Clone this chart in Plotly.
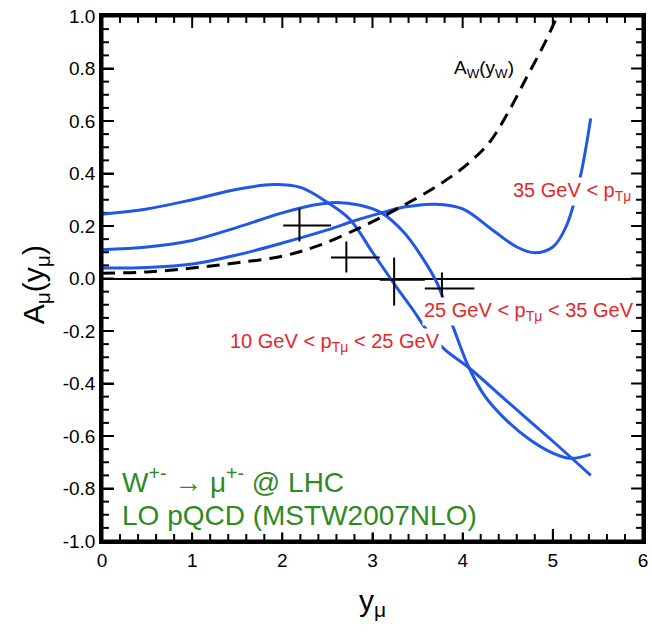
import plotly.graph_objects as go

# Muon charge asymmetry A_mu(y_mu) for three p_T bins, plus the W asymmetry
y_bin1 = [0.0, 0.5, 1.0, 1.5, 1.9, 2.2, 2.5, 2.75, 3.0, 3.25, 3.45, 3.6, 3.8, 4.07, 4.5, 5.0, 5.42]
a_bin1 = [0.245, 0.265, 0.30, 0.34, 0.358, 0.347, 0.29, 0.225, 0.10, -0.025, -0.12, -0.195, -0.27, -0.34, -0.47, -0.62, -0.75]

y_bin2 = [0.0, 0.5, 1.0, 1.5, 2.0, 2.35, 2.6, 2.85, 3.1, 3.35, 3.57, 3.72, 3.9, 4.07, 4.25, 4.5, 4.75, 5.0, 5.2, 5.42]
a_bin2 = [0.11, 0.12, 0.145, 0.195, 0.25, 0.28, 0.29, 0.28, 0.25, 0.175, 0.07, -0.02, -0.19, -0.34, -0.45, -0.545, -0.615, -0.665, -0.685, -0.67]

y_bin3 = [0.0, 0.5, 1.0, 1.5, 2.0, 2.5, 2.8, 3.1, 3.35, 3.7, 4.0, 4.35, 4.6, 4.8, 5.0, 5.15, 5.3, 5.42]
a_bin3 = [0.04, 0.042, 0.055, 0.09, 0.135, 0.185, 0.22, 0.25, 0.272, 0.283, 0.265, 0.18, 0.12, 0.098, 0.12, 0.20, 0.38, 0.61]

y_w = [0.0, 0.5, 1.0, 1.5, 2.0, 2.4, 2.9, 3.3, 3.75, 4.05, 4.3, 4.5, 4.7, 4.9, 5.05]
a_w = [0.02, 0.025, 0.04, 0.06, 0.085, 0.125, 0.20, 0.27, 0.36, 0.435, 0.52, 0.63, 0.76, 0.89, 1.0]

# Measured points: centre, bin edges and vertical error range
pt_x = [2.19, 2.71, 3.24, 3.77]
pt_y = [0.202, 0.08, -0.005, -0.038]
pt_xlo = [2.01, 2.54, 3.08, 3.58]
pt_xhi = [2.54, 3.08, 3.58, 4.13]
pt_ylo = [0.141, 0.023, -0.103, -0.09]
pt_yhi = [0.267, 0.141, 0.08, 0.023]

x_ticks = [0, 1, 2, 3, 4, 5, 6]
y_ticks = [-1.0, -0.8, -0.6, -0.4, -0.2, 0.0, 0.2, 0.4, 0.6, 0.8, 1.0]
X_RANGE = [0, 6]
Y_RANGE = [-1, 1]
X_MINOR_STEPS = 5   # minor divisions per major x interval
Y_MINOR_STEPS = 4   # minor divisions per major y interval

BLUE = "#2157e6"
RED = "#e8262a"
GREEN = "#2f8a1f"
FONT = "Liberation Sans, Arial, sans-serif"

W, H = 652, 633
MARGIN = dict(l=102, r=4, t=16, b=92)
PLOT_W = W - MARGIN["l"] - MARGIN["r"]
PLOT_H = H - MARGIN["t"] - MARGIN["b"]

fig = go.Figure()

# Inward tick marks on all four sides (major and minor), pixel lengths in axis units
MAJOR_LEN, MINOR_LEN = 12, 7
x_per_px = (X_RANGE[1] - X_RANGE[0]) / PLOT_W
y_per_px = (Y_RANGE[1] - Y_RANGE[0]) / PLOT_H
tx, ty = [], []
x_step = (x_ticks[1] - x_ticks[0]) / X_MINOR_STEPS
for i in range(round((X_RANGE[1] - X_RANGE[0]) / x_step) + 1):
    xv = X_RANGE[0] + i * x_step
    ln = (MAJOR_LEN if i % X_MINOR_STEPS == 0 else MINOR_LEN) * y_per_px
    tx += [xv, xv, None, xv, xv, None]
    ty += [Y_RANGE[0], Y_RANGE[0] + ln, None, Y_RANGE[1], Y_RANGE[1] - ln, None]
y_step = (y_ticks[1] - y_ticks[0]) / Y_MINOR_STEPS
for j in range(round((Y_RANGE[1] - Y_RANGE[0]) / y_step) + 1):
    yv = Y_RANGE[0] + j * y_step
    ln = (MAJOR_LEN if j % Y_MINOR_STEPS == 0 else MINOR_LEN) * x_per_px
    tx += [X_RANGE[0], X_RANGE[0] + ln, None, X_RANGE[1], X_RANGE[1] - ln, None]
    ty += [yv, yv, None, yv, yv, None]
fig.add_trace(go.Scatter(x=tx, y=ty, mode="lines", line=dict(color="black", width=2),
                         connectgaps=False, showlegend=False, hoverinfo="skip"))

# Theory curves
for xs, ys in [(y_bin1, a_bin1), (y_bin2, a_bin2), (y_bin3, a_bin3)]:
    fig.add_trace(go.Scatter(x=xs, y=ys, mode="lines",
                             line=dict(color=BLUE, width=3, shape="spline", smoothing=1.0),
                             showlegend=False, hoverinfo="skip"))

fig.add_trace(go.Scatter(x=y_w, y=a_w, mode="lines",
                         line=dict(color="black", width=3, dash="13px,8px", shape="spline", smoothing=1.0),
                         showlegend=False, hoverinfo="skip"))

# Data crosses: horizontal bin width and vertical error range
cx, cy = [], []
for xc, yc, xl, xh, yl, yh in zip(pt_x, pt_y, pt_xlo, pt_xhi, pt_ylo, pt_yhi):
    cx += [xl, xh, None, xc, xc, None]
    cy += [yc, yc, None, yl, yh, None]
fig.add_trace(go.Scatter(x=cx, y=cy, mode="lines", line=dict(color="black", width=2),
                         connectgaps=False, showlegend=False, hoverinfo="skip"))

# Heavy frame around the plotting area
fig.add_trace(go.Scatter(
    x=[X_RANGE[0], X_RANGE[1], X_RANGE[1], X_RANGE[0], X_RANGE[0]],
    y=[Y_RANGE[0], Y_RANGE[0], Y_RANGE[1], Y_RANGE[1], Y_RANGE[0]],
    mode="lines", line=dict(color="black", width=3), cliponaxis=False,
    showlegend=False, hoverinfo="skip"))

label_font = dict(family=FONT, size=20, color=RED)
ann = [
    dict(x=4.54, y=0.33, text="35 GeV &lt; p<sub>Tμ</sub>", font=label_font),
    dict(x=3.55, y=-0.126, text="25 GeV &lt; p<sub>Tμ</sub> &lt; 35 GeV", font=label_font),
    dict(x=1.40, y=-0.244, text="10 GeV &lt; p<sub>Tμ</sub> &lt; 25 GeV", font=label_font),
    dict(x=3.88, y=0.80, text="A<sub>W</sub>(y<sub>W</sub>)",
         font=dict(family=FONT, size=19, color="black")),
    dict(x=0.2, y=-0.766, text="W<sup>+-</sup> → μ<sup>+-</sup> @ LHC",
         font=dict(family=FONT, size=28, color=GREEN)),
    dict(x=0.2, y=-0.903, text="LO pQCD (MSTW2007NLO)",
         font=dict(family=FONT, size=28, color=GREEN)),
]
for a in ann:
    fig.add_annotation(xref="x", yref="y", xanchor="left", yanchor="middle",
                       showarrow=False, bgcolor="white", borderpad=1, **a)

# Axis titles
fig.add_annotation(xref="paper", yref="paper", x=0.5, y=-0.118, xanchor="center", yanchor="middle",
                   showarrow=False, text="y<sub>μ</sub>",
                   font=dict(family=FONT, size=30, color="black"))
fig.add_annotation(xref="paper", yref="paper", x=-0.123, y=0.488, xanchor="center", yanchor="middle",
                   showarrow=False, textangle=-90, text="A<sub>μ</sub>(y<sub>μ</sub>)",
                   font=dict(family=FONT, size=30, color="black"))

axis_style = dict(showline=True, linecolor="black", linewidth=2.5, mirror=True,
                  ticks="inside", ticklen=12, tickwidth=2, tickcolor="#000000",
                  showgrid=False, tickfont=dict(family=FONT, size=19, color="black"))

fig.update_layout(
    width=W, height=H, margin=MARGIN,
    paper_bgcolor="white", plot_bgcolor="white",
    font=dict(family=FONT, color="black"),
    xaxis=dict(range=X_RANGE, tickmode="array", tickvals=x_ticks,
               ticktext=[str(v) for v in x_ticks], zeroline=False, **axis_style),
    yaxis=dict(range=Y_RANGE, tickmode="array", tickvals=y_ticks,
               ticktext=[f"{v:.1f}" for v in y_ticks],
               zeroline=True, zerolinecolor="black", zerolinewidth=1.5, **axis_style),
)

fig.write_html("out.html")
